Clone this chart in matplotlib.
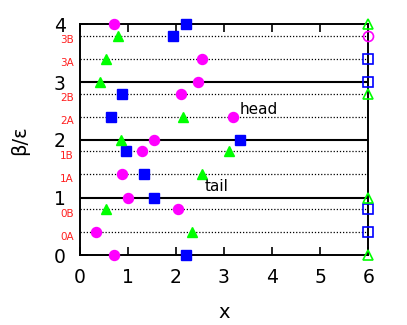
import matplotlib
matplotlib.use("Agg")
import matplotlib.pyplot as plt

# sublevel dotted lines and their labels
sub_y = [0.4, 0.8, 1.4, 1.8, 2.4, 2.8, 3.4, 3.8]
sub_labels = ["0A", "0B", "1A", "1B", "2A", "2B", "3A", "3B"]
major_y = [0, 1, 2, 3, 4]
level_lines = [1, 2, 3]

# magenta filled circles
circ_x = [0.71, 2.45, 2.54, 2.10, 3.18, 1.55, 1.30, 0.89, 1.00, 2.04, 0.34, 0.72]
circ_y = [4.0, 3.0, 3.4, 2.8, 2.4, 2.0, 1.8, 1.4, 1.0, 0.8, 0.4, 0.0]
# blue filled squares
sq_x = [2.21, 1.94, 0.88, 0.65, 3.33, 0.96, 1.34, 1.55, 2.21]
sq_y = [4.0, 3.8, 2.8, 2.4, 2.0, 1.8, 1.4, 1.0, 0.0]
# green filled triangles
tri_x = [0.79, 0.55, 0.42, 2.14, 0.86, 3.11, 2.54, 0.54, 2.34]
tri_y = [3.8, 3.4, 3.0, 2.4, 2.0, 1.8, 1.4, 0.8, 0.4]
# open markers at x = 6
ocirc_x, ocirc_y = [6.0], [3.8]
osq_x, osq_y = [6.0, 6.0, 6.0, 6.0], [3.4, 3.0, 0.8, 0.4]
otri_x, otri_y = [6.0, 6.0, 6.0, 6.0], [4.0, 2.8, 1.0, 0.0]

fig = plt.figure(figsize=(4.07, 3.25), dpi=100)
ax = fig.add_axes([0.1956, 0.2145, 0.7094, 0.7105])
ax.set_xlim(0, 6)
ax.set_ylim(0, 4)

for y in sub_y:
    ax.plot([0, 6], [y, y], color="black", lw=0.9, ls=(0, (1, 1.5)), zorder=1)
for y in level_lines:
    ax.axhline(y, color="black", lw=1.5, zorder=1)

ms = 7.2
ax.plot(circ_x, circ_y, "o", color="#ff00ff", ms=ms, mec="#ff00ff", clip_on=False, zorder=3)
ax.plot(sq_x, sq_y, "s", color="#0000ff", ms=ms, clip_on=False, zorder=3)
ax.plot(tri_x, tri_y, "^", color="#00ff00", ms=ms, clip_on=False, zorder=3)
ax.plot(ocirc_x, ocirc_y, "o", mfc="none", mec="#ff00ff", mew=1.2, ms=ms, clip_on=False, zorder=3)
ax.plot(osq_x, osq_y, "s", mfc="none", mec="#0000ff", mew=1.2, ms=ms, clip_on=False, zorder=3)
ax.plot(otri_x, otri_y, "^", mfc="none", mec="#00ff00", mew=1.2, ms=ms, clip_on=False, zorder=3)

ax.text(3.33, 2.45, "head", fontsize=11)
ax.text(2.59, 1.11, "tail", fontsize=11)

ax.set_xticks([0, 1, 2, 3, 4, 5, 6])
ax.tick_params(axis="x", which="major", direction="in", length=6, width=1.2,
               top=True, labelsize=13.5, pad=9)
ax.set_yticks(major_y)
ax.set_yticks([y - 0.06 for y in sub_y], minor=True)
ax.set_yticklabels(sub_labels, minor=True)
ax.tick_params(axis="y", which="major", direction="in", length=6, width=1.2,
               labelsize=13.5, pad=10)
ax.tick_params(axis="y", which="minor", length=0, labelsize=7.5, pad=4,
               labelcolor="#ff2020")
for s in ax.spines.values():
    s.set_linewidth(1.4)

ax.set_xlabel("x", fontsize=14, labelpad=12)
ax.set_ylabel("β/ε", fontsize=14, labelpad=18)

fig.savefig("out.png", dpi=100)
